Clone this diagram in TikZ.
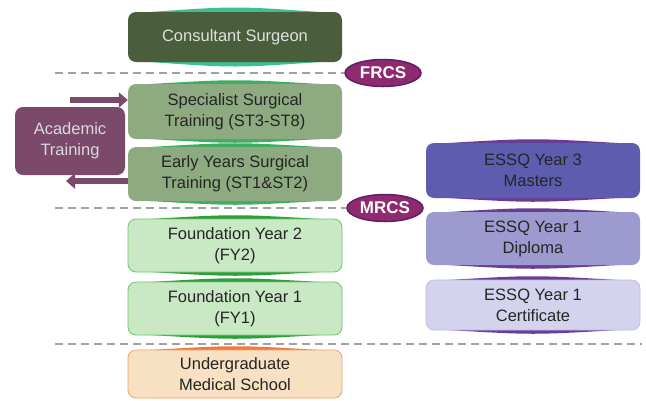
\documentclass[tikz,border=0pt]{standalone}
\usepackage{fontspec}
\setmainfont{Liberation Sans}
\usetikzlibrary{arrows.meta,shapes.geometric}
\definecolor{csdark}{HTML}{4A5E3C}
\definecolor{csglow}{HTML}{3DBF94}
\definecolor{stgreen}{HTML}{8DAA80}
\definecolor{stglow}{HTML}{3FAE62}
\definecolor{fygreen}{HTML}{C9E8C4}
\definecolor{fyborder}{HTML}{6CC76A}
\definecolor{fyglow}{HTML}{2E9E3A}
\definecolor{ugfill}{HTML}{F7E1C2}
\definecolor{ugborder}{HTML}{F0A070}
\definecolor{ugglow}{HTML}{F07A3A}
\definecolor{acad}{HTML}{7B4A6A}
\definecolor{rcs}{HTML}{8E2B6E}
\definecolor{rcsborder}{HTML}{5E1E6A}
\definecolor{essq3}{HTML}{5E5CAE}
\definecolor{essq2}{HTML}{9C9ACE}
\definecolor{essq1}{HTML}{D4D3EE}
\definecolor{essqglow}{HTML}{6A3C9A}
\definecolor{dashgray}{HTML}{A0A0A0}
\definecolor{txt}{HTML}{252525}
\begin{document}
\begin{tikzpicture}[x=1pt,y=-1pt,
  box/.style={rounded corners=8pt, minimum width=214pt, align=center,
    font=\fontsize{16.5}{21}\selectfont, inner sep=0pt, text=txt},
  sep/.style={draw=dashgray, line width=2pt, dash pattern=on 8pt off 5pt},
  rcsnode/.style={ellipse, fill=rcs, draw=rcsborder, line width=1.5pt,
    minimum width=76pt, minimum height=27pt, inner sep=0pt, text=white,
    font=\fontsize{17}{20}\selectfont\bfseries},
  bigarrow/.style={draw=acad, line width=6pt, -{Triangle[length=9pt,width=15pt]}}
]
\useasboundingbox (0,0) rectangle (646,400);
\fill[white] (0,0) rectangle (646,400);

% glow accents (lens shapes behind boxes)
\fill[csglow] (150,12) .. controls (235,6) .. (320,12) -- (320,62) .. controls (235,68) .. (150,62) -- cycle;
\fill[stglow] (150,84) .. controls (235,79) .. (320,84) -- (320,139) .. controls (235,144) .. (150,139) -- cycle;
\fill[stglow] (150,147) .. controls (235,142) .. (320,147) -- (320,201) .. controls (235,206) .. (150,201) -- cycle;
\fill[fyglow] (150,219) .. controls (235,214) .. (320,219) -- (320,272) .. controls (235,277) .. (150,272) -- cycle;
\fill[fyglow] (150,282) .. controls (235,277) .. (320,282) -- (320,335) .. controls (235,340) .. (150,335) -- cycle;
\fill[ugglow] (150,350) .. controls (235,345) .. (320,350) -- (320,398) -- (150,398) -- cycle;
\fill[essqglow] (448,143) .. controls (533,138) .. (618,143) -- (618,198) .. controls (533,203) .. (448,198) -- cycle;
\fill[essqglow] (448,212) .. controls (533,207) .. (618,212) -- (618,265) .. controls (533,270) .. (448,265) -- cycle;
\fill[essqglow] (448,280) .. controls (533,275) .. (618,280) -- (618,330) .. controls (533,335) .. (448,330) -- cycle;

\node[box, fill=csdark, text=white!88!black, minimum height=50pt] (cs) at (235,37) {Consultant Surgeon};
\node[box, fill=stgreen, minimum height=55pt] (sst) at (235,111.5) {Specialist Surgical\\Training (ST3-ST8)};
\node[box, fill=stgreen, minimum height=54pt] (eyst) at (235,174) {Early Years Surgical\\Training (ST1\&ST2)};
\node[box, fill=fygreen, draw=fyborder, line width=0.8pt, minimum height=53pt] (fy2) at (235,245.5) {Foundation Year 2\\(FY2)};
\node[box, fill=fygreen, draw=fyborder, line width=0.8pt, minimum height=53pt] (fy1) at (235,308.5) {Foundation Year 1\\(FY1)};
\node[box, fill=ugfill, draw=ugborder, line width=0.8pt, minimum height=48pt] (ug) at (235,374) {Undergraduate\\Medical School};

\node[box, fill=acad, text=white!85!black, minimum width=110pt, minimum height=68pt] (acad) at (70,141) {Academic\\Training};

\node[box, fill=essq3, minimum height=55pt] (e3) at (533,170.5) {ESSQ Year 3\\Masters};
\node[box, fill=essq2, minimum height=53pt] (e2) at (533,238.5) {ESSQ Year 1\\Diploma};
\node[box, fill=essq1, draw=essq2!70, line width=0.6pt, minimum height=50pt] (e1) at (533,305) {ESSQ Year 1\\Certificate};

% separators and exam ellipses
\node[rcsnode] (frcs) at (383,73) {FRCS};
\node[rcsnode] (mrcs) at (385,208) {MRCS};
\coordinate (d1) at (55,73);
\coordinate (d2) at (55,208);
\coordinate (d3a) at (55,344);
\coordinate (d3b) at (642,344);
\draw[sep] (d1) -- (frcs.west);
\draw[sep] (d2) -- (mrcs.west);
\draw[sep] (d3a) -- (d3b);

% arrows to/from academic training
\coordinate (a1s) at (70,100);
\coordinate (a2e) at (66,181);
\draw[bigarrow] (a1s) -- (a1s -| sst.west);
\draw[bigarrow] (a2e -| eyst.west) -- (a2e);
\end{tikzpicture}
\end{document}
